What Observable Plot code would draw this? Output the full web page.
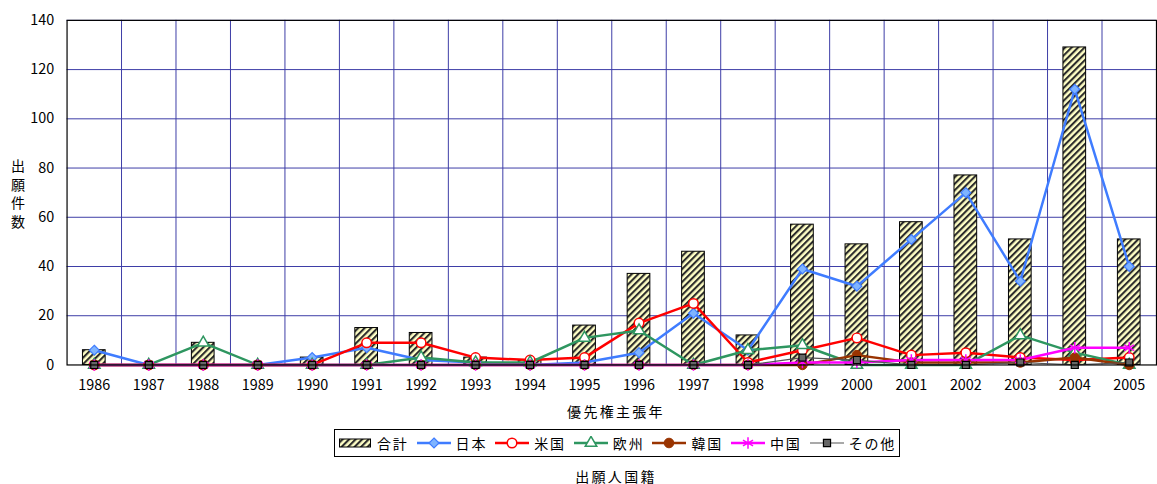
<!DOCTYPE html>
<html><head><meta charset="utf-8">
<script src="https://cdn.jsdelivr.net/npm/d3@7"></script>
<script src="https://cdn.jsdelivr.net/npm/@observablehq/plot@0.6"></script>
<style>
html,body{margin:0;padding:0;background:#fff;overflow:hidden;}
body{font-family:"Noto Sans CJK JP",sans-serif;width:1157px;height:484px;position:relative;color:#000;}
#chart{position:absolute;left:0;top:0;line-height:0;}
.lbl{position:absolute;font-size:14px;letter-spacing:2.3px;white-space:nowrap;line-height:16px;}
#xlabel{left:0;width:1232px;top:403px;text-align:center;}
#ylabel{left:11px;top:156px;width:16px;line-height:18.7px;font-size:14px;text-align:center;white-space:normal;}
#caption{left:0;width:1232px;top:468px;text-align:center;}
#legend{position:absolute;left:334px;top:429px;width:561px;height:26px;border:1px solid #000;display:flex;align-items:center;box-sizing:content-box;padding-left:3px;overflow:hidden;}
.item{display:flex;align-items:center;margin-right:8px;flex:0 0 auto;white-space:nowrap;}
.item svg{display:block;margin-right:5px;flex:0 0 auto;}
.item span{font-size:14px;letter-spacing:1.8px;line-height:16px;white-space:nowrap;}
</style>
</head><body>
<div id="chart"></div>
<div class="lbl" id="xlabel">優先権主張年</div>
<div class="lbl" id="ylabel">出<br>願<br>件<br>数</div>
<div id="legend"></div>
<div class="lbl" id="caption">出願人国籍</div>
<script>
const years = [1986,1987,1988,1989,1990,1991,1992,1993,1994,1995,1996,1997,1998,1999,2000,2001,2002,2003,2004,2005];
const total = [6,0,9,0,3,15,13,3,2,16,37,46,12,57,49,58,77,51,129,51];
const japan = [6,0,0,0,3,7,2,1,0,1,5,21,6,39,32,51,70,34,112,40];
const usa   = [0,0,0,0,0,9,9,3,2,3,17,25,1,6,11,4,5,3,2,3];
const europe= [0,0,9,0,0,0,3,1,1,11,14,0,6,8,0,0,0,12,5,0];
const korea = [0,0,0,0,0,0,0,0,0,0,0,0,0,0,4,1,1,1,3,0];
const china = [0,0,0,0,0,0,0,0,0,0,0,0,0,1,1,2,2,2,7,7];
const other = [0,0,0,0,0,0,0,0,0,0,0,0,0,3,2,0,0,1,0,1];
const yTicks = [0,20,40,60,80,100,120,140];

const barName = "合計";
const series = [
  {key:"japan", name:"日本", values:japan, stroke:"#3f7cff", fill:"#7fb4ff", symbol:"diamond2", r:4.5, sw:2.5, msw:1.2},
  {key:"usa", name:"米国", values:usa, stroke:"#ff0000", fill:"#ffffff", symbol:"circle", r:4.8, sw:2.5, msw:1.5},
  {key:"europe", name:"欧州", values:europe, stroke:"#2e9660", fill:"#ffffff", symbol:"triangle2", r:5.5, sw:2.5, msw:1.5},
  {key:"korea", name:"韓国", values:korea, stroke:"#993300", fill:"#993300", symbol:"circle", r:4.8, sw:2.5, msw:1},
  {key:"china", name:"中国", values:china, stroke:"#ff00ff", fill:"none", symbol:"asterisk", r:5.5, sw:2.5, msw:1.5},
  {key:"other", name:"その他", values:other, stroke:"#555555", fill:"#666666", symbol:"square", r:4, sw:1.2, msw:1.2, mstroke:"#000"}
];

const data = years.map((year,i)=>{
  const o = {year, total: total[i]};
  for (const s of series) o[s.key] = s.values[i];
  return o;
});

const grid = "#3c3ca6";
const marks = [
  Plot.ruleY(yTicks.slice(1), {stroke: grid, strokeWidth: 1}),
  Plot.ruleX(years.slice(0,-1), {x: d => d + 0.5, stroke: grid, strokeWidth: 1}),
  Plot.rectY(data, {x1: d => d.year - 0.5, x2: d => d.year + 0.5, y: "total", insetLeft: 16, insetRight: 16, fill: "url(#hatch)", stroke: "#000", strokeWidth: 1})
];
for (const s of series) {
  marks.push(Plot.line(data, {x: "year", y: s.key, stroke: s.stroke, strokeWidth: s.sw}));
}
for (const s of series) {
  marks.push(Plot.dot(data, {x: "year", y: s.key, symbol: s.symbol, r: s.r, fill: s.fill, stroke: s.mstroke || s.stroke, strokeWidth: s.msw}));
}
marks.push(Plot.frame({stroke: "#000", strokeWidth: 1.2}));

const chart = Plot.plot({
  width: 1165, height: 421,
  marginLeft: 67, marginRight: 1, marginTop: 20, marginBottom: 54,
  style: {fontFamily: '"Noto Sans CJK JP", sans-serif', fontSize: "14.5px", color: "#000", background: "#fff", overflow: "visible"},
  x: {domain: [1985.5, 2005.5], ticks: years, tickFormat: d => String(d), tickSize: 0, tickPadding: 15, label: null},
  y: {domain: [0, 140], ticks: yTicks, tickSize: 0, tickPadding: 13, label: null},
  marks
});
document.getElementById("chart").appendChild(chart);

function addHatch(svgSel, id) {
  const defs = svgSel.insert("defs", ":first-child");
  const p = defs.append("pattern").attr("id", id).attr("patternUnits", "userSpaceOnUse")
    .attr("width", 4.6).attr("height", 4.6).attr("patternTransform", "rotate(45)");
  p.append("rect").attr("width", 4.6).attr("height", 4.6).attr("fill", "#ffffc6");
  p.append("rect").attr("width", 2.1).attr("height", 4.6).attr("fill", "#2b2b2b");
}
addHatch(d3.select(chart), "hatch");

// Legend
const legend = d3.select("#legend");
const first = legend.append("div").attr("class", "item");
const fs = first.append("svg").attr("width", 34).attr("height", 14);
addHatch(fs, "hatchL");
fs.append("rect").attr("x", 1.5).attr("y", 3).attr("width", 31).attr("height", 8).attr("fill", "url(#hatchL)").attr("stroke", "#000");
first.append("span").text(barName);
const symMap = {circle: d3.symbolCircle, diamond2: d3.symbolDiamond2, triangle2: d3.symbolTriangle2, asterisk: d3.symbolAsterisk, square: d3.symbolSquare};
for (const s of series) {
  const it = legend.append("div").attr("class", "item");
  const sv = it.append("svg").attr("width", 34).attr("height", 14);
  sv.append("line").attr("x1", 0).attr("x2", 34).attr("y1", 7).attr("y2", 7).attr("stroke", s.stroke).attr("stroke-width", s.sw);
  sv.append("path").attr("transform", "translate(17,7)")
    .attr("d", d3.symbol(symMap[s.symbol], Math.PI * s.r * s.r)())
    .attr("fill", s.fill).attr("stroke", s.mstroke || s.stroke).attr("stroke-width", s.msw);
  it.append("span").text(s.name);
}
</script>
</body></html>
